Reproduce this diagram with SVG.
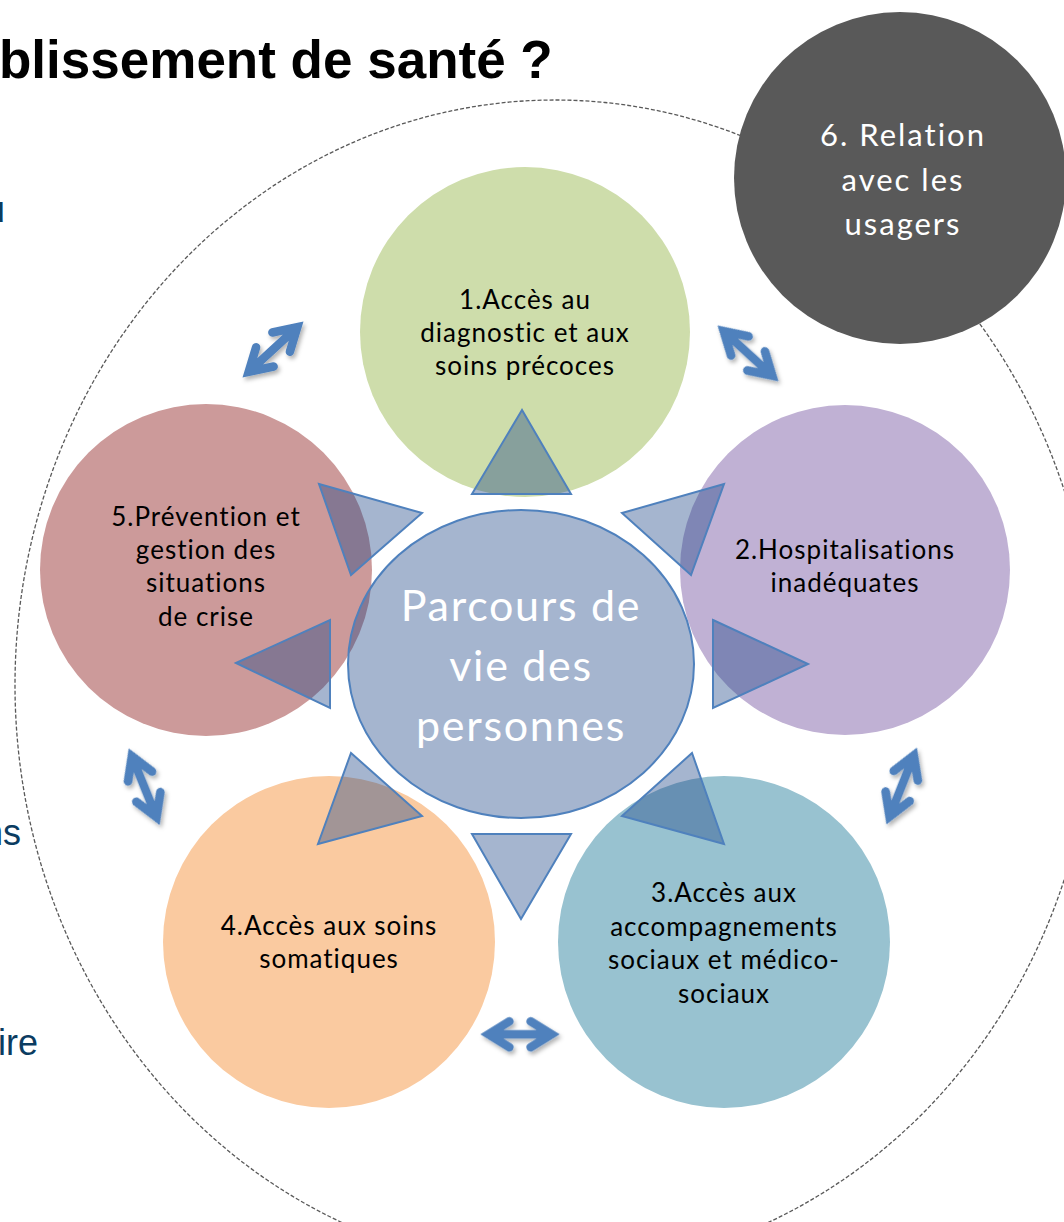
<svg xmlns="http://www.w3.org/2000/svg" width="1064" height="1222" viewBox="0 0 1064 1222">
<style>
.lbl{font-family:Lato,"Open Sans",sans-serif;font-size:26px;letter-spacing:1px;fill:#000;text-anchor:middle}
.ctr{font-family:Lato,"Open Sans",sans-serif;font-size:43px;letter-spacing:1.7px;fill:#fff;text-anchor:middle}
.six{font-family:Lato,"Open Sans",sans-serif;font-size:31px;letter-spacing:2px;fill:#fff;text-anchor:middle}
.frag{font-family:"Liberation Sans",Arial,sans-serif;font-size:36px;fill:#0B3C61}
.tri{fill:#1E4687;fill-opacity:0.4;stroke:#4F81BD;stroke-width:2;stroke-linejoin:miter}
.arr{fill:none;stroke:#4F81BD;stroke-width:8.5;stroke-linecap:round;stroke-linejoin:miter;stroke-miterlimit:10}
</style>
<defs>
<filter id="sh" x="-30%" y="-30%" width="160%" height="160%">
<feDropShadow dx="2" dy="3" stdDeviation="2" flood-color="#000" flood-opacity="0.3"/>
</filter>
<path id="dbl" class="arr" d="M-33,0 L33,0 M11,-13 L33,0 L11,13 M-11,-13 L-33,0 L-11,13"/>
</defs>
<rect width="1064" height="1222" fill="#fff"/>
<text x="-1" y="78" font-family="Liberation Sans,Arial,sans-serif" font-size="53" font-weight="bold" fill="#000">blissement de santé ?</text>
<text x="5" y="222" class="frag" text-anchor="end" font-weight="bold">u</text>
<text x="21" y="845" class="frag" text-anchor="end">ns</text>
<text x="38" y="1055" class="frag" text-anchor="end">ire</text>
<ellipse id="outer" cx="555" cy="685" rx="540" ry="585" fill="none" stroke="#595959" stroke-width="1.3" stroke-dasharray="4 2"/>
<g id="n1"><circle cx="525" cy="332" r="165" fill="#CEDDAB"/>
<text class="lbl" x="525" y="309">1.Accès au</text><text class="lbl" x="525" y="342">diagnostic et aux</text><text class="lbl" x="525" y="375">soins précoces</text></g>
<g id="n2"><circle cx="845" cy="570" r="165" fill="#C0B1D4"/>
<text class="lbl" x="845" y="559">2.Hospitalisations</text><text class="lbl" x="845" y="592">inadéquates</text></g>
<g id="n3"><circle cx="724" cy="942" r="166" fill="#98C2D0"/>
<text class="lbl" x="724" y="902">3.Accès aux</text><text class="lbl" x="724" y="936">accompagnements</text><text class="lbl" x="724" y="969">sociaux et médico-</text><text class="lbl" x="724" y="1003">sociaux</text></g>
<g id="n4"><circle cx="329" cy="942" r="166" fill="#FACAA0"/>
<text class="lbl" x="329" y="935">4.Accès aux soins</text><text class="lbl" x="329" y="968">somatiques</text></g>
<g id="n5"><circle cx="206" cy="570" r="166" fill="#CC9A9A"/>
<text class="lbl" x="206" y="526">5.Prévention et</text><text class="lbl" x="206" y="559">gestion des</text><text class="lbl" x="206" y="592">situations</text><text class="lbl" x="206" y="626">de crise</text></g>
<g id="center"><ellipse cx="521" cy="664" rx="173" ry="154" fill="#1E4687" fill-opacity="0.4" stroke="#4F81BD" stroke-width="2"/>
<text class="ctr" x="521" y="621">Parcours de</text><text class="ctr" x="521" y="681">vie des</text><text class="ctr" x="521" y="741">personnes</text></g>
<g id="n6"><circle cx="900" cy="178" r="166" fill="#595959"/>
<text class="six" x="903" y="146">6. Relation</text><text class="six" x="903" y="191">avec les</text><text class="six" x="903" y="235">usagers</text></g>
<g id="triangles">
<polygon class="tri" points="522,410 472,494 571,494"/>
<polygon class="tri" points="622,513 724,484 691,575"/>
<polygon class="tri" points="713,620 808,664 713,708"/>
<polygon class="tri" points="692,753 622,816 724,844"/>
<polygon class="tri" points="472,834 571,834 521,919"/>
<polygon class="tri" points="351,753 422,816 318,844"/>
<polygon class="tri" points="236,663 330,620 330,708"/>
<polygon class="tri" points="319,484 422,513 351,575"/>
</g>
<g id="connectors" filter="url(#sh)">
<use href="#dbl" transform="translate(273,349.5) rotate(-42.5)"/>
<use href="#dbl" transform="translate(748,353.4) rotate(42.5)"/>
<use href="#dbl" transform="translate(901.7,786) rotate(-68.4)"/>
<use href="#dbl" transform="translate(520,1034.3) scale(0.96,1)"/>
<use href="#dbl" transform="translate(144.2,786.7) rotate(68)"/>
</g>
</svg>
